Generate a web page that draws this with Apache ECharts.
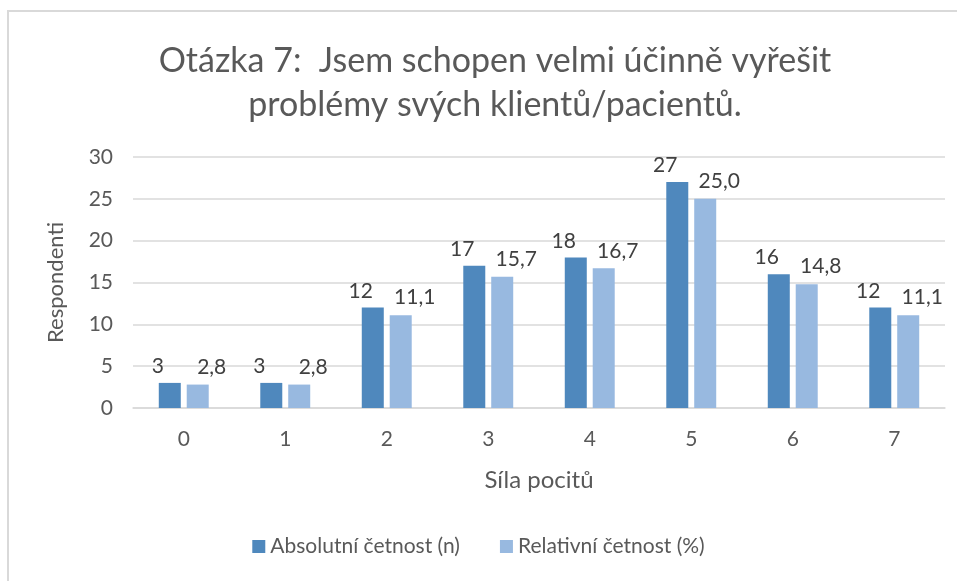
<!DOCTYPE html>
<html>
<head>
<meta charset="utf-8">
<script src="https://cdn.jsdelivr.net/npm/echarts@6/dist/echarts.min.js"></script>
<style>
	html, body { margin: 0; padding: 0; background: #fff; }
	#chart { width: 957px; height: 581px; }
</style>
</head>
<body>
<div id="chart"></div>
<script>
// hodnoty z grafu
const categories = ["0", "1", "2", "3", "4", "5", "6", "7"];
const absolutni = [3, 3, 12, 17, 18, 27, 16, 12];
const relativni = [2.8, 2.8, 11.1, 15.7, 16.7, 25.0, 14.8, 11.1];
const yTicks = [0, 5, 10, 15, 20, 25, 30];

const font = "Lato, 'Open Sans', sans-serif";
const textColor = "#595959";

const chart = echarts.init(document.getElementById("chart"));

chart.setOption({
	animation: false,
	textStyle: { fontFamily: font },
	title: {
		text: "Otázka 7:  Jsem schopen velmi účinně vyřešit\nproblémy svých klientů/pacientů.",
		left: 490,
		top: 34,
		textAlign: "center",
		textStyle: {
			fontFamily: font,
			fontSize: 34,
			fontWeight: "normal",
			color: textColor,
			lineHeight: 44,
		},
	},
	legend: {
		bottom: 19,
		left: "center",
		itemWidth: 13,
		itemHeight: 13,
		itemGap: 40,
		icon: "rect",
		textStyle: { fontSize: 21, color: textColor, fontFamily: font },
		data: ["Absolutní četnost (n)", "Relativní četnost (%)"],
	},
	graphic: [
		{
			type: "rect",
			shape: { x: 8, y: 11, width: 1000, height: 1000 },
			style: { fill: "none", stroke: "#d9d9d9", lineWidth: 2 },
			silent: true,
		},
	],
	grid: {
		left: 133,
		right: 12,
		top: 157,
		bottom: 173,
		containLabel: false,
	},
	xAxis: {
		type: "category",
		data: categories,
		name: "Síla pocitů",
		nameLocation: "middle",
		nameGap: 60,
		nameTextStyle: { fontSize: 24, color: textColor, fontFamily: font },
		axisLine: { lineStyle: { color: "#d9d9d9", width: 1.5 } },
		axisTick: { show: false },
		axisLabel: { fontSize: 21, color: textColor, margin: 21, fontFamily: font },
	},
	yAxis: {
		type: "value",
		min: yTicks[0],
		max: yTicks[yTicks.length - 1],
		interval: 5,
		name: "Respondenti",
		nameLocation: "middle",
		nameGap: 66,
		nameTextStyle: { fontSize: 22, color: textColor, fontFamily: font },
		axisLine: { show: false },
		axisTick: { show: false },
		axisLabel: { fontSize: 21, color: textColor, margin: 20, fontFamily: font },
		splitLine: { lineStyle: { color: "#d9d9d9", width: 1.5 } },
	},
	series: [
		{
			name: "Absolutní četnost (n)",
			type: "bar",
			data: absolutni,
			barWidth: 22,
			barGap: "27%",
			itemStyle: { color: "#4f88bd" },
			label: {
				show: true,
				position: "top",
				offset: [-12, -1],
				fontSize: 21,
				color: "#404040",
				fontFamily: font,
			},
		},
		{
			name: "Relativní četnost (%)",
			type: "bar",
			data: relativni,
			barWidth: 22,
			itemStyle: { color: "#98b9e0" },
			label: {
				show: true,
				position: "top",
				offset: [14, -2],
				fontSize: 21,
				color: "#404040",
				fontFamily: font,
				formatter: (p) => p.value.toFixed(1).replace(".", ","),
			},
		},
	],
});
</script>
</body>
</html>
